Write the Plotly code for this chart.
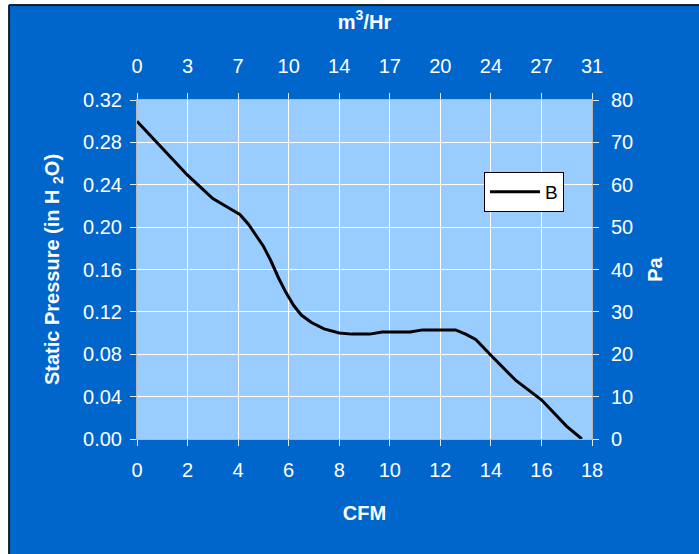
import plotly.graph_objects as go

# ---- data ----
cfm = [0, 0.5, 1.0, 1.5, 2.0, 2.5, 3.0, 3.5, 4.07, 4.4, 4.7, 5.0, 5.3, 5.6, 5.9,
       6.2, 6.5, 6.9, 7.4, 8.0, 8.5, 9.2, 9.7, 10.8, 11.3, 12.6, 13.0, 13.4,
       14.0, 15.0, 16.0, 17.0, 17.6]
pressure_inh2o = [0.300, 0.287, 0.274, 0.261, 0.249, 0.238, 0.227, 0.220, 0.212,
                  0.203, 0.193, 0.182, 0.168, 0.152, 0.138, 0.126, 0.117, 0.110,
                  0.104, 0.100, 0.099, 0.099, 0.101, 0.101, 0.103, 0.103, 0.099,
                  0.094, 0.079, 0.055, 0.037, 0.012, 0.000]
series_name = "B"

cfm_ticks = [0, 2, 4, 6, 8, 10, 12, 14, 16, 18]
m3hr_tick_labels = ["0", "3", "7", "10", "14", "17", "20", "24", "27", "31"]
pressure_ticks = [0.00, 0.04, 0.08, 0.12, 0.16, 0.20, 0.24, 0.28, 0.32]
pa_ticks = [0, 10, 20, 30, 40, 50, 60, 70, 80]
PA_PER_INH2O = 250.0

# ---- layout constants ----
W, H = 699, 554
L, R, T, B = 137, 107, 100, 115
PW, PH = W - L - R, H - T - B

def px(p):
    return (p - L) / PW

def py(p):
    return (H - B - p) / PH

FONT = "Liberation Sans, Arial, sans-serif"
BLUE = "#0066CC"
PLOTBG = "#99CCFF"
AXLINE = "#B8B8B8"
TICKC = "#E8E8E8"

fig = go.Figure()
fig.add_trace(go.Scatter(
    x=cfm, y=pressure_inh2o, mode="lines", name=series_name,
    line=dict(color="black", width=3), xaxis="x", yaxis="y"))
# invisible companion trace for the secondary (m3/Hr, Pa) axes
fig.add_trace(go.Scatter(
    x=cfm, y=[v * PA_PER_INH2O for v in pressure_inh2o], mode="lines",
    line=dict(color="rgba(0,0,0,0)", width=0), showlegend=False,
    hoverinfo="skip", xaxis="x2", yaxis="y2"))

tickfont = dict(family=FONT, size=20, color="white")
titlefont = dict(family=FONT, size=20, color="white", weight="bold")

common = dict(showline=True, linecolor=AXLINE, linewidth=1, ticks="outside",
              ticklen=6, tickcolor=TICKC, tickwidth=1, tickfont=tickfont,
              zeroline=False)

fig.update_layout(
    width=W, height=H,
    margin=dict(l=L, r=R, t=T, b=B, autoexpand=False),
    paper_bgcolor=BLUE, plot_bgcolor=PLOTBG,
    font=dict(family=FONT, color="white"),
    xaxis=dict(range=[0, 18], tickvals=cfm_ticks, showgrid=True,
               gridcolor="white", gridwidth=1,
               title=dict(text="CFM", font=titlefont, standoff=25),
               ticklabelstandoff=7, **common),
    xaxis2=dict(range=[0, 18], overlaying="x", side="top", tickvals=cfm_ticks,
                ticktext=m3hr_tick_labels, showgrid=False,
                title=dict(text="m<sup>3</sup>/Hr", font=titlefont, standoff=20),
                ticklabelstandoff=12, **common),
    yaxis=dict(range=[0, 0.32], tickvals=pressure_ticks, tickformat=".2f",
               showgrid=True, gridcolor="white", gridwidth=1,
               title=dict(text="Static Pressure (in H <sub>2</sub>O)",
                          font=titlefont, standoff=18),
               ticklabelstandoff=4, **common),
    yaxis2=dict(range=[0, 80], tickvals=pa_ticks, overlaying="y", side="right",
                showgrid=False,
                title=dict(text="Pa", font=titlefont, standoff=15),
                ticklabelstandoff=8, **common),
    legend=dict(x=px(484), y=py(172), xanchor="left", yanchor="top",
                bgcolor="white", bordercolor="black", borderwidth=1,
                font=dict(family=FONT, size=19, color="black"),
                itemwidth=50, tracegroupgap=0),
    showlegend=True,
    shapes=[
        dict(type="rect", xref="paper", yref="paper", x0=px(-10), x1=px(8.5),
             y0=py(570), y1=py(-10), fillcolor="white", line=dict(width=0),
             layer="above"),
        dict(type="rect", xref="paper", yref="paper", x0=px(-10), x1=px(710),
             y0=py(4.5), y1=py(-10), fillcolor="white", line=dict(width=0),
             layer="above"),
        dict(type="line", xref="paper", yref="paper", x0=px(9), x1=px(9),
             y0=py(5), y1=py(570), line=dict(color="black", width=1.5),
             layer="above"),
        dict(type="line", xref="paper", yref="paper", x0=px(9), x1=px(710),
             y0=py(5), y1=py(5), line=dict(color="black", width=1.5),
             layer="above"),
    ],
)

fig.write_html(
    "out.html",
    config={"displayModeBar": False},
    post_script="document.body.style.margin='0';document.body.style.overflow='hidden';",
)
